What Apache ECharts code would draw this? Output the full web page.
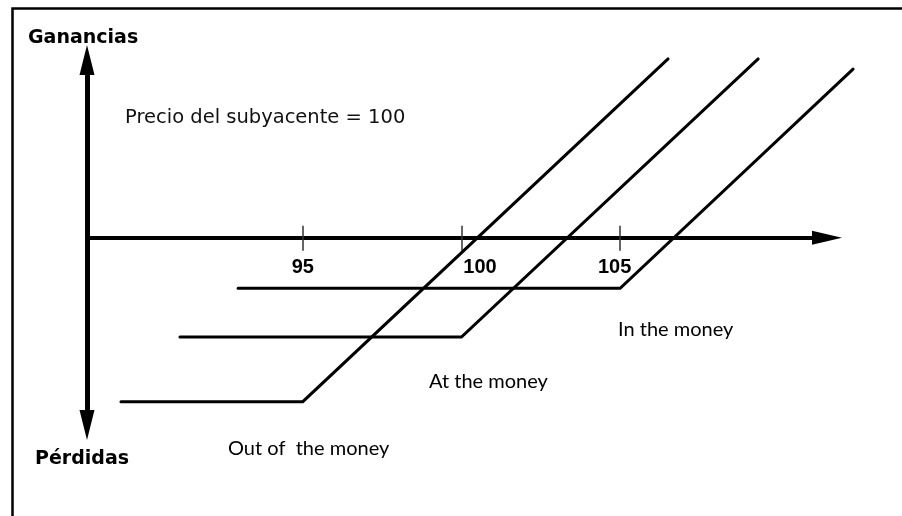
<!DOCTYPE html>
<html>
<head>
<meta charset="utf-8">
<script src="https://cdn.jsdelivr.net/npm/echarts@6/dist/echarts.min.js"></script>
<style>
  html, body { margin: 0; padding: 0; background: #fff; }
  #chart { width: 902px; height: 516px; }
</style>
</head>
<body>
<div id="chart"></div>
<script>
// precios de ejercicio (eje horizontal)
const strikes = [95, 100, 105];
const tickLabels = ['95', '100', '105'];

// perfil de ganancias/perdidas de cada opcion: [precio, resultado]
const outOfMoney = [[89.27, -5.48], [95, -5.48], [106.51, 5.98]];
const atTheMoney = [[91.13, -3.32], [100, -3.32], [109.35, 5.98]];
const inTheMoney = [[92.96, -1.69], [105, -1.69], [112.34, 5.64]];

const seriesNames = ['Out of  the money', 'At the money', 'In the money'];

const chart = echarts.init(document.getElementById('chart'), null, { renderer: 'canvas' });

// escala comun: 31.73 px por unidad en x, 29.9 px por unidad en y
const X_MIN = 88.2, X_MAX = 111.52;
const PLOT_LEFT = 87, PLOT_RIGHT = 75;
const ZERO_Y = 237.7; // pixel del eje horizontal

// desplazamiento manual de algunas etiquetas (como en el original)
function tickText(v) {
  const i = strikes.indexOf(v);
  const txt = i >= 0 ? tickLabels[i] : '';
  if (v === 100) return '{r|' + txt + '}';
  if (v === 105) return '{l|' + txt + '}';
  return '{c|' + txt + '}';
}

const labelFont = {
  fontFamily: 'Liberation Sans',
  fontWeight: 'bold',
  fontSize: 20,
  color: '#000'
};

const hidden = {
  axisLine: { show: false },
  axisTick: { show: false },
  axisLabel: { show: false },
  splitLine: { show: false }
};

function line(name, data) {
  return {
    name: name,
    type: 'line',
    xAxisIndex: 3,
    yAxisIndex: 3,
    data: data,
    symbol: 'none',
    silent: true,
    lineStyle: { color: '#000', width: 3, cap: 'round', join: 'miter' },
    z: 5
  };
}

function note(text, x, y, opts) {
  return {
    type: 'text',
    left: x,
    top: y,
    silent: true,
    style: Object.assign({
      text: text,
      fill: '#000',
      font: '20px Lato',
      verticalAlign: 'middle'
    }, opts || {})
  };
}

const option = {
  backgroundColor: '#fff',
  animation: false,
  grid: [
    // 0: eje vertical
    { left: PLOT_LEFT, right: PLOT_RIGHT, top: 60, bottom: 91, outerBoundsMode: 'none' },
    // 1: eje horizontal (parte inferior del grid = y 0)
    { left: PLOT_LEFT, right: PLOT_RIGHT, top: 60, bottom: 516 - ZERO_Y, outerBoundsMode: 'none' },
    // 2: parte superior de las marcas
    { left: PLOT_LEFT, right: PLOT_RIGHT, top: ZERO_Y, bottom: 91, outerBoundsMode: 'none' },
    // 3: curvas, rango algo mas amplio para no recortar
    { left: PLOT_LEFT, right: 28, top: 43.4, bottom: 91, outerBoundsMode: 'none' }
  ],
  xAxis: [
    Object.assign({ type: 'value', gridIndex: 0, min: X_MIN, max: X_MAX }, hidden),
    {
      type: 'value',
      gridIndex: 1,
      position: 'bottom',
      min: X_MIN,
      max: X_MAX,
      axisLine: {
        onZero: false,
        symbol: ['none', 'triangle'],
        symbolSize: [14, 30],
        lineStyle: { color: '#000', width: 4 }
      },
      axisTick: {
        show: true,
        customValues: strikes,
        length: 13,
        lineStyle: { color: '#333', width: 1.5 }
      },
      axisLabel: {
        show: true,
        customValues: strikes,
        margin: 20,
        formatter: tickText,
        rich: {
          c: Object.assign({}, labelFont),
          r: Object.assign({ padding: [0, 0, 0, 37] }, labelFont),
          l: Object.assign({ padding: [0, 11, 0, 0] }, labelFont)
        }
      },
      splitLine: { show: false }
    },
    {
      type: 'value',
      gridIndex: 2,
      position: 'top',
      min: X_MIN,
      max: X_MAX,
      axisLine: { show: false, onZero: false },
      axisTick: {
        show: true,
        customValues: strikes,
        length: 12,
        lineStyle: { color: '#333', width: 1.5 }
      },
      axisLabel: { show: false },
      splitLine: { show: false }
    },
    Object.assign({ type: 'value', gridIndex: 3, min: X_MIN, max: 113 }, hidden)
  ],
  yAxis: [
    {
      type: 'value',
      gridIndex: 0,
      min: -6.26,
      max: 5.94,
      axisLine: {
        show: true,
        onZero: false,
        symbol: ['triangle', 'triangle'],
        symbolSize: [15, 30],
        lineStyle: { color: '#000', width: 5 }
      },
      axisTick: { show: false },
      axisLabel: { show: false },
      splitLine: { show: false }
    },
    Object.assign({ type: 'value', gridIndex: 1, min: 0, max: 1 }, hidden),
    Object.assign({ type: 'value', gridIndex: 2, min: 0, max: 1 }, hidden),
    Object.assign({ type: 'value', gridIndex: 3, min: -6.26, max: 6.5 }, hidden)
  ],
  series: [
    line(seriesNames[0], outOfMoney),
    line(seriesNames[1], atTheMoney),
    line(seriesNames[2], inTheMoney)
  ],
  graphic: [
    {
      type: 'rect',
      left: 10,
      top: 6,
      silent: true,
      shape: { width: 1000, height: 700 },
      style: { fill: 'none', stroke: '#000', lineWidth: 2.5 }
    },
    note('Ganancias', 28, 29, { font: 'bold 19px "DejaVu Sans"' }),
    note('Pérdidas', 35, 450, { font: 'bold 19px "DejaVu Sans"' }),
    note('Precio del subyacente = 100', 125, 108, { font: '19.5px "DejaVu Sans"', fill: '#111' }),
    note(seriesNames[2], 618, 320),
    note(seriesNames[1], 429, 372),
    note(seriesNames[0], 228, 439)
  ]
};

chart.setOption(option);
</script>
</body>
</html>
